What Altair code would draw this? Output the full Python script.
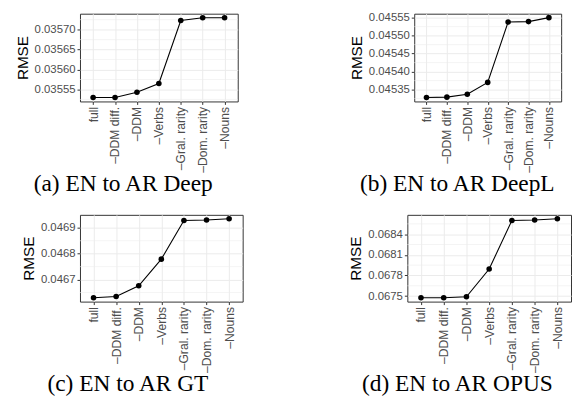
import altair as alt
import pandas as pd

features = ["full", "–DDM diff.", "–DDM", "–Verbs", "–Gral. rarity", "–Dom. rarity", "–Nouns"]

deep_vals = [0.03553, 0.03553, 0.035543, 0.035565, 0.035723, 0.03573, 0.03573]
deepl_vals = [0.045328, 0.045329, 0.045337, 0.04537, 0.045538, 0.045539, 0.04555]
gt_vals = [0.04663, 0.046635, 0.046676, 0.046779, 0.046928, 0.04693, 0.046935]
opus_vals = [0.067477, 0.067477, 0.067491, 0.067894, 0.0686, 0.068605, 0.068624]

deep_ticks = [0.03555, 0.03560, 0.03565, 0.03570]
deepl_ticks = [0.04535, 0.04540, 0.04545, 0.04550, 0.04555]
gt_ticks = [0.0467, 0.0468, 0.0469]
opus_ticks = [0.0675, 0.0678, 0.0681, 0.0684]

deep_minor = [0.035525, 0.035575, 0.035625, 0.035675, 0.035725]
deepl_minor = [0.045325, 0.045375, 0.045425, 0.045475, 0.045525]
gt_minor = [0.04665, 0.04675, 0.04685]
opus_minor = [0.06765, 0.06795, 0.06825, 0.06855]

captions = ["(a) EN to AR Deep", "(b) EN to AR DeepL", "(c) EN to AR GT", "(d) EN to AR OPUS"]


def panel(vals, domain, ticks, minors, fmt, caption, w, h, cap_dx):
    df = pd.DataFrame({"feature": features, "rmse": vals})
    yscale = alt.Scale(domain=domain, nice=False, zero=False)
    yaxis = alt.Axis(title="RMSE", values=ticks, format=fmt, grid=True,
                     labelFontSize=11.5, titleFontSize=15.5, titleFontWeight="normal",
                     titleColor="black", titlePadding=4)
    x = alt.X("feature:N", sort=features,
              scale=alt.Scale(type="point", padding=0.6),
              axis=alt.Axis(title=None, labelAngle=-90, labelAlign="right",
                            labelBaseline="middle", labelFontSize=12.3,
                            grid=True))
    y = alt.Y("rmse:Q", scale=yscale, axis=yaxis)
    minor = alt.Chart(pd.DataFrame({"m": minors})).mark_rule(
        color="#ececec", strokeWidth=0.6
    ).encode(y=alt.Y("m:Q", scale=yscale, axis=yaxis))
    line = alt.Chart(df).mark_line(color="black", strokeWidth=1.1).encode(x=x, y=y)
    pts = alt.Chart(df).mark_circle(color="black", size=32, opacity=1).encode(x=x, y=y)
    return alt.layer(minor, line, pts).properties(
        width=w, height=h,
        title=alt.TitleParams(caption, orient="bottom", anchor="start", frame="group",
                              offset=0, dx=cap_dx),
    )


a = panel(deep_vals, [0.03552, 0.03574], deep_ticks, deep_minor, ".5f", captions[0], 160, 89, -47)
b = panel(deepl_vals, [0.045317, 0.045561], deepl_ticks, deepl_minor, ".5f", captions[1], 149, 89, -55)
c = panel(gt_vals, [0.046615, 0.04695], gt_ticks, gt_minor, ".4f", captions[2], 165, 88, -33)
d = panel(opus_vals, [0.06742, 0.068681], opus_ticks, opus_minor, ".4f", captions[3], 166, 88, -46)

chart = alt.vconcat(
    alt.hconcat(a, b, spacing=111),
    alt.hconcat(c, d, spacing=106),
    spacing=17,
).properties(
    padding={"left": 6, "top": 0, "right": 0, "bottom": 0}
).configure_view(
    stroke="#333333", strokeWidth=1
).configure_axis(
    domain=False,
    tickColor="#333333", tickSize=3, tickWidth=1,
    gridColor="#ebebeb", gridWidth=1,
    labelColor="#4d4d4d", labelFont="Liberation Sans",
    titleFont="Liberation Sans", titleFontWeight="normal",
    titleColor="black", labelPadding=2,
).configure_title(
    font="Liberation Serif", fontSize=23.7, fontWeight="normal", color="black",
)

chart.save("out.html", embed_options={"renderer": "svg", "actions": False})
